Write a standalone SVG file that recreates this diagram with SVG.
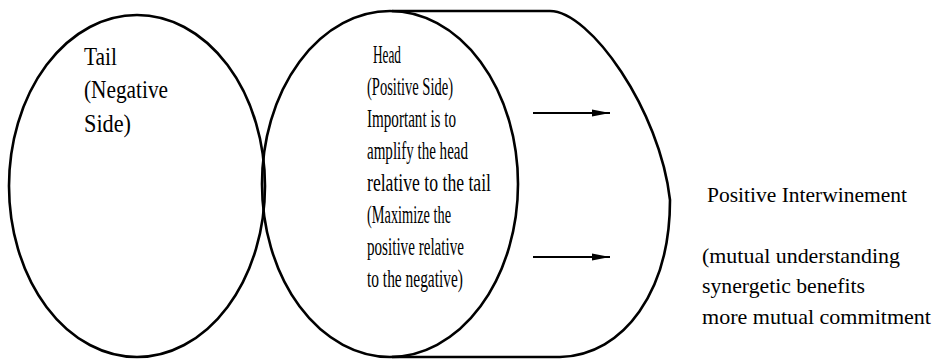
<svg xmlns="http://www.w3.org/2000/svg" width="935" height="360" viewBox="0 0 935 360">
<style>
.shape{fill:none;stroke:#000;stroke-width:2.6}
.conn{fill:none;stroke:#000;stroke-width:2}
text{font-family:"Liberation Serif","Times New Roman",serif;font-size:25px;fill:#000}
.out{font-size:22px}
</style>
<defs>
<marker id="ah" viewBox="0 0 18 8" refX="18" refY="4" markerWidth="18" markerHeight="8" markerUnits="userSpaceOnUse" orient="auto">
<path d="M0,0.5 L18,4 L0,7.5 Z" fill="#000"/>
</marker>
</defs>
<rect width="935" height="360" fill="#fff"/>
<g id="tail">
<ellipse class="shape" cx="137" cy="186" rx="128" ry="171"/>
<text x="84" y="65" textLength="33" lengthAdjust="spacingAndGlyphs">Tail</text>
<text x="84" y="98" textLength="84" lengthAdjust="spacingAndGlyphs">(Negative</text>
<text x="84" y="132" textLength="47" lengthAdjust="spacingAndGlyphs">Side)</text>
</g>
<g id="interwinement">
<path class="shape" d="M392 11 L550 11 C590 11 660 110 670 200 C670 290 625 355 560 357 L392 357"/>
</g>
<g id="head">
<ellipse class="shape" cx="390" cy="184" rx="128" ry="173"/>
<text x="373" y="63" textLength="28" lengthAdjust="spacingAndGlyphs">Head</text>
<text x="367" y="95" textLength="86" lengthAdjust="spacingAndGlyphs">(Positive Side)</text>
<text x="367" y="127" textLength="89" lengthAdjust="spacingAndGlyphs">Important is to</text>
<text x="367" y="159" textLength="101" lengthAdjust="spacingAndGlyphs">amplify the head</text>
<text x="367" y="191" textLength="124" lengthAdjust="spacingAndGlyphs">relative to the tail</text>
<text x="367" y="223" textLength="84" lengthAdjust="spacingAndGlyphs">(Maximize the</text>
<text x="367" y="255" textLength="97" lengthAdjust="spacingAndGlyphs">positive relative</text>
<text x="367" y="287" textLength="96" lengthAdjust="spacingAndGlyphs">to the negative)</text>
</g>
<g id="outcome">
<text class="out" x="707" y="202" textLength="200" lengthAdjust="spacingAndGlyphs">Positive Interwinement</text>
<text class="out" x="702" y="263" textLength="198" lengthAdjust="spacingAndGlyphs">(mutual understanding</text>
<text class="out" x="702" y="293" textLength="163" lengthAdjust="spacingAndGlyphs">synergetic benefits</text>
<text class="out" x="702" y="324" textLength="229" lengthAdjust="spacingAndGlyphs">more mutual commitment</text>
</g>
<g id="connectors">
<line class="conn" x1="533" y1="113" x2="610" y2="113" marker-end="url(#ah)"/>
<line class="conn" x1="533" y1="257" x2="610" y2="257" marker-end="url(#ah)"/>
</g>
</svg>
